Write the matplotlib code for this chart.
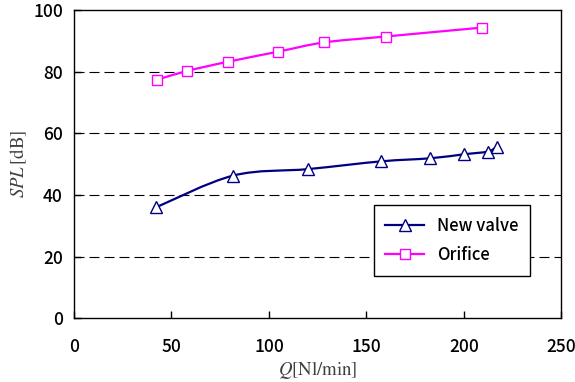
import numpy as np
import matplotlib
matplotlib.use("Agg")
import matplotlib.pyplot as plt
from matplotlib.path import Path
from matplotlib.patches import PathPatch
from matplotlib.lines import Line2D

plt.rcParams['font.family'] = ['Noto Sans CJK JP', 'DejaVu Sans']
plt.rcParams['mathtext.fontset'] = 'stix'

# Data
valve_q = [42.1, 81.7, 120.2, 157.3, 182.6, 200.0, 212.3, 216.8]
valve_spl = [36.0, 46.3, 48.4, 50.9, 51.9, 53.2, 54.1, 55.7]
orifice_q = [42.7, 57.8, 78.8, 104.8, 128.4, 159.8, 209.4]
orifice_spl = [77.4, 80.2, 83.2, 86.5, 89.5, 91.4, 94.3]
x_ticks = [0, 50, 100, 150, 200, 250]
y_ticks = [0, 20, 40, 60, 80, 100]
labels = ["New valve", "Orifice"]

fig = plt.figure(figsize=(5.75, 3.82), dpi=100)
ax = fig.add_axes([0.1287, 0.1668, 0.8478, 0.807])


def smooth_path(xs, ys):
    p = np.column_stack([xs, ys]).astype(float)
    n = len(p)
    verts = [p[0]]
    codes = [Path.MOVETO]
    for i in range(n - 1):
        p0 = p[i - 1] if i > 0 else p[i]
        p1 = p[i]
        p2 = p[i + 1]
        p3 = p[i + 2] if i + 2 < n else p[i + 1]
        c1 = p1 + (p2 - p0) / 6.0
        c2 = p2 - (p3 - p1) / 6.0
        verts += [c1, c2, p2]
        codes += [Path.CURVE4] * 3
    return Path(verts, codes)


navy = '#000080'
mag = '#FF00FF'

for xs, ys, c in [(valve_q, valve_spl, navy), (orifice_q, orifice_spl, mag)]:
    ax.add_patch(PathPatch(smooth_path(xs, ys), facecolor='none', edgecolor=c,
                           lw=1.6, zorder=3))

ax.plot(valve_q, valve_spl, ls='none', marker='^', ms=8.5, mfc='white', mec=navy,
        mew=1.0, zorder=4)
ax.plot(orifice_q, orifice_spl, ls='none', marker='s', ms=6.5, mfc='white', mec=mag,
        mew=1.0, zorder=4)

ax.set_xlim(0, 250)
ax.set_ylim(0, 100)
ax.set_xticks(x_ticks)
ax.set_yticks(y_ticks)
ax.tick_params(direction='in', length=5, width=1, labelsize=12.5, pad=8, colors='black')
ax.tick_params(axis='x', pad=14)
for t in ax.get_xticklabels() + ax.get_yticklabels():
    t.set_fontweight('medium')
for yv in y_ticks[1:-1]:
    ax.axhline(yv, color='black', lw=0.8, ls=(0, (9, 4.5)), zorder=1)
for s in ax.spines.values():
    s.set_linewidth(1.0)
    s.set_color('black')

ax.set_xlabel(r'$Q[\mathrm{Nl/min}]$', fontsize=13.5, color='#404040', labelpad=2)
ax.set_ylabel(r'$SPL\,[\mathrm{dB}]$', fontsize=13.5, color='#404040', labelpad=3)

handles = [
    Line2D([], [], color=navy, lw=1.6, marker='^', ms=8.5, mfc='white', mec=navy, mew=1.0),
    Line2D([], [], color=mag, lw=1.6, marker='s', ms=6.5, mfc='white', mec=mag, mew=1.0),
]
leg = ax.legend(handles, labels, loc='upper left', bbox_to_anchor=(0.615, 0.368),
                borderaxespad=0, fancybox=False, edgecolor='black', framealpha=1,
                prop={'size': 12, 'weight': 'medium'}, handlelength=2.3,
                labelspacing=0.7, borderpad=0.7, handletextpad=0.8)
leg.get_frame().set_linewidth(1.0)

fig.savefig('out.png', dpi=100)
